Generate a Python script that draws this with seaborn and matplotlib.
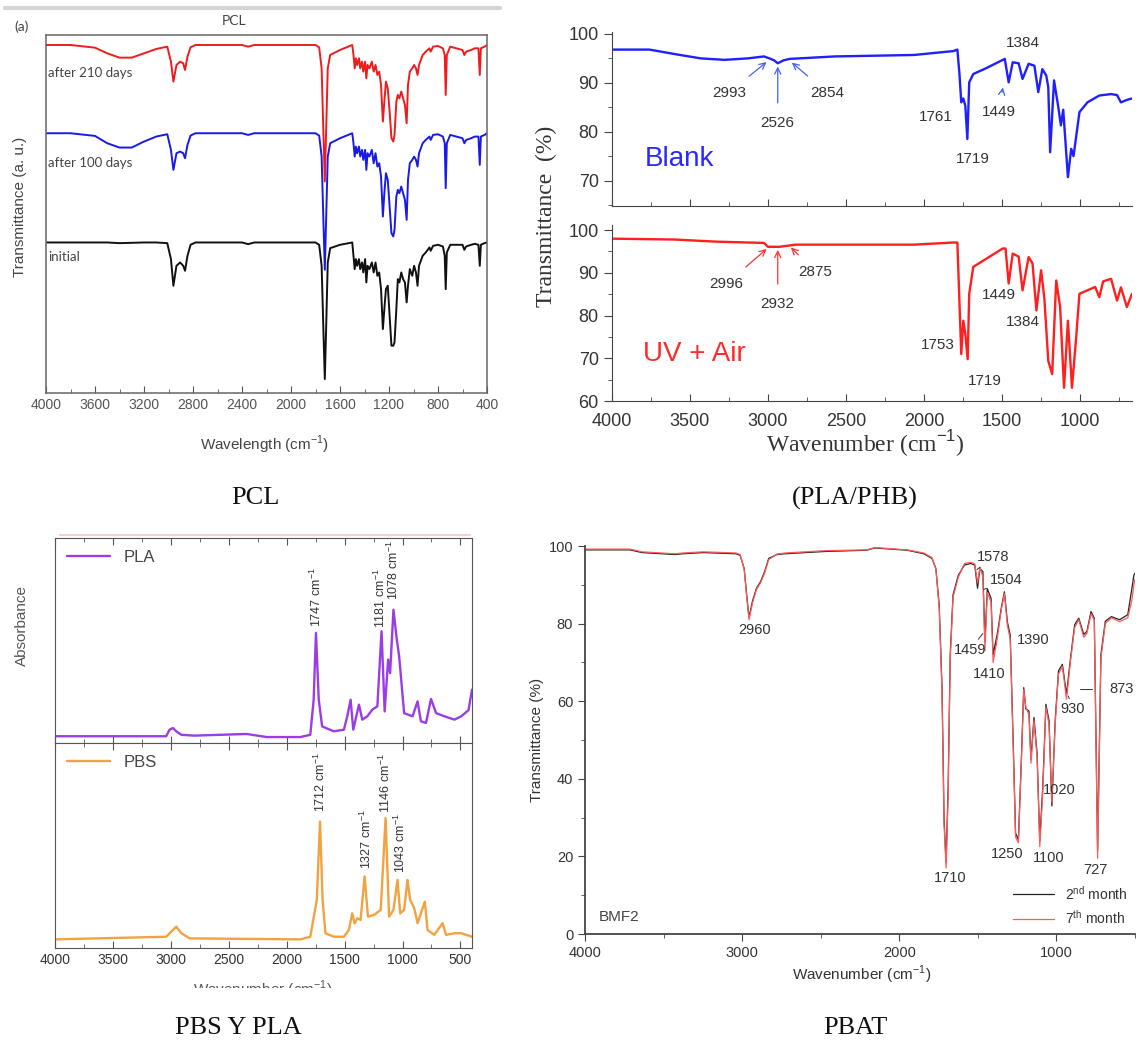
import matplotlib
matplotlib.use("Agg")
import numpy as np
import pandas as pd
import matplotlib.pyplot as plt
import seaborn as sns
from matplotlib.ticker import MultipleLocator
from matplotlib.lines import Line2D
from matplotlib.patches import Rectangle

# ===== DATA =====
# PCL: shared wavenumbers, band depth below each baseline (a.u.)
pcl_wn = [4000, 3800, 3600, 3500, 3400, 3300, 3200, 3100, 3010, 2980,
          2960, 2935, 2905, 2880, 2865, 2845, 2820, 2780, 2400, 2350,
          2300, 1800, 1770, 1750, 1735, 1724, 1714, 1700, 1680, 1600,
          1500, 1490, 1480, 1470, 1460, 1445, 1435, 1420, 1410, 1395,
          1385, 1375, 1360, 1340, 1325, 1310, 1295, 1280, 1265, 1250,
          1238, 1225, 1210, 1195, 1180, 1165, 1155, 1140, 1128, 1115,
          1100, 1085, 1070, 1056, 1045, 1030, 1010, 995, 980, 967,
          955, 945, 925, 900, 870, 860, 840, 800, 760, 745,
          737, 728, 700, 600, 585, 570, 530, 500, 470, 459,
          450, 420, 400]
pcl_initial = [0, 0, 0, 0, 0.2, 0.1, 0, 0, 0.2, 5,
               13, 7, 6, 7, 8.5, 4, 0.7, 0, 0, 0.5,
               0, 0, 0.7, 7, 27, 41, 27, 6, 1.7, 0.7,
               0, 4, 8, 5, 7, 5, 8, 6, 9, 5,
               12, 7, 8, 6, 9, 6, 10, 9, 14, 26,
               20, 14, 13, 22, 31, 31, 30, 20, 11, 12,
               9, 11, 12, 18, 13, 8, 10, 7, 9, 13,
               7, 6, 4, 3, 1.5, 2.5, 1, 0.7, 1.2, 4,
               14, 3, 0.7, 0.7, 2.2, 1.2, 0.7, 0.4, 0.7, 7,
               0.7, 0.2, 0]
pcl_100d = [0, 0, 0.8, 3, 4.3, 4.3, 2.5, 1, 0.3, 5,
            11, 6, 5.5, 6, 7.5, 3.5, 0.7, 0, 0, 0.5,
            0, 0, 0.7, 7, 27, 41, 27, 7, 3, 1.5,
            0, 3, 7, 4, 6, 4, 7, 5, 8, 5,
            11, 6, 7, 5, 9, 6, 10, 9, 13, 25,
            18, 12, 14, 22, 30, 31, 29, 19, 17, 18,
            16, 18, 20, 26, 14, 9, 8, 7, 8, 10,
            6, 5, 3, 2, 1, 2, 0.5, 0.3, 1, 3,
            16.5, 3, 0.5, 1.5, 3, 2, 1.5, 1, 1, 9.5,
            1, 0.5, 0]
pcl_210d = [0, 0, 0.8, 2.5, 3.8, 3.8, 2.5, 1.2, 0.5, 5,
            11, 6, 5, 5.5, 7.5, 3.5, 0.7, 0, 0, 0.5,
            0, 0, 0.7, 7, 27, 41, 27, 7, 3, 1.5,
            0, 3, 7, 4, 6, 4, 7, 5, 8, 5,
            10, 6, 7, 5, 8, 6, 9, 8, 12, 23,
            17, 11, 13, 20, 28, 29, 27, 17, 15, 16,
            14, 16, 18, 23.5, 12, 8, 7, 6, 7, 9,
            6, 5, 3, 2, 1, 2, 0.5, 0.3, 1, 3,
            15, 3, 0.5, 1.5, 3, 2, 1.5, 1, 1, 9,
            1, 0.5, 0]
pcl_offsets = [45.2, 78.0, 104.5]
pcl_names = ["initial", "after 100 days", "after 210 days"]

# PLA/PHB transmittance (%)
blank_wn = [4000, 3760, 3582, 3430, 3278, 3130, 3025, 2990, 2960, 2937,
            2900, 2860, 2570, 2063, 1810, 1785, 1772, 1760, 1747, 1734,
            1721, 1709, 1683, 1600, 1481, 1456, 1430, 1392, 1367, 1328,
            1291, 1266, 1240, 1215, 1202, 1190, 1165, 1139, 1121, 1106,
            1076, 1055, 1040, 1002, 951, 875, 799, 761, 736, 698,
            665]
blank_t = [96.8, 96.8, 95.8, 95.0, 94.7, 95.0, 95.4, 95.0, 94.6, 94.0,
           94.6, 94.9, 95.4, 95.7, 96.5, 96.8, 92.0, 86.0, 86.8, 85.3,
           78.5, 90.1, 91.8, 93.0, 94.9, 90.1, 94.2, 94.0, 90.8, 93.9,
           93.5, 88.1, 92.8, 91.5, 89.1, 75.8, 90.5, 85.3, 81.3, 84.5,
           70.7, 76.5, 75.0, 84.0, 86.0, 87.4, 87.7, 87.5, 86.0, 86.5,
           86.8]
uv_wn = [4000, 3600, 3329, 3025, 3000, 2924, 2823, 2063, 1810, 1785,
         1772, 1760, 1747, 1734, 1719, 1709, 1683, 1494, 1476, 1456,
         1430, 1392, 1367, 1328, 1303, 1278, 1248, 1227, 1202, 1177,
         1151, 1126, 1101, 1076, 1050, 1025, 1002, 951, 901, 875,
         850, 799, 761, 736, 698, 665]
uv_t = [98.0, 97.8, 97.3, 97.0, 96.1, 96.1, 96.6, 96.6, 97.1, 97.1,
        83.5, 71.0, 78.8, 75.7, 69.8, 85.1, 91.4, 95.7, 95.7, 87.5,
        94.5, 93.8, 85.9, 93.7, 92.2, 81.2, 90.6, 84.0, 69.4, 66.3,
        88.2, 82.0, 63.1, 78.8, 63.1, 74.0, 85.1, 85.9, 86.7, 84.3,
        88.0, 88.6, 83.5, 86.6, 82.0, 85.1]

# PLA / PBS absorbance (a.u.)
pla_wn = [4000, 3040, 3011, 2982, 2953, 2909, 2800, 2345, 2172, 1882,
          1796, 1767, 1747, 1723, 1694, 1593, 1506, 1477, 1448, 1425,
          1376, 1347, 1304, 1260, 1217, 1181, 1154, 1124, 1107, 1078,
          1049, 1029, 986, 913, 870, 841, 797, 754, 710, 638,
          551, 494, 430, 400]
pla_abs = [0.033, 0.033, 0.065, 0.073, 0.057, 0.04, 0.036, 0.044, 0.029, 0.029,
           0.04, 0.211, 0.537, 0.211, 0.081, 0.057, 0.065, 0.13, 0.211, 0.065,
           0.187, 0.114, 0.13, 0.163, 0.179, 0.545, 0.154, 0.407, 0.341, 0.65,
           0.504, 0.423, 0.146, 0.13, 0.203, 0.106, 0.098, 0.215, 0.146, 0.13,
           0.114, 0.13, 0.16, 0.26]
pbs_wn = [4000, 3040, 2982, 2953, 2909, 2837, 1882, 1796, 1740, 1712,
          1690, 1665, 1593, 1506, 1463, 1434, 1413, 1390, 1362, 1327,
          1298, 1246, 1188, 1146, 1116, 1078, 1043, 1020, 986, 957,
          934, 899, 870, 807, 784, 726, 654, 624, 551, 494,
          400]
pbs_abs = [0.042, 0.055, 0.088, 0.104, 0.072, 0.047, 0.042, 0.055, 0.235, 0.617,
           0.235, 0.072, 0.055, 0.055, 0.088, 0.169, 0.12, 0.145, 0.137, 0.349,
           0.153, 0.161, 0.186, 0.634, 0.153, 0.186, 0.332, 0.169, 0.186, 0.332,
           0.235, 0.195, 0.121, 0.226, 0.088, 0.064, 0.121, 0.064, 0.072, 0.072,
           0.055]

# PBAT transmittance (%)
pbat_wn = [4000, 3714, 3636, 3429, 3377, 3247, 3039, 3013, 2987, 2969,
           2956, 2935, 2909, 2883, 2857, 2831, 2779, 2727, 2468, 2208,
           2156, 1948, 1844, 1792, 1767, 1746, 1728, 1715, 1702, 1689,
           1676, 1658, 1624, 1585, 1546, 1520, 1502, 1487, 1468, 1455,
           1440, 1416, 1403, 1377, 1351, 1331, 1312, 1294, 1273, 1260,
           1242, 1222, 1208, 1195, 1175, 1162, 1143, 1123, 1106, 1087,
           1067, 1047, 1029, 1008, 987, 962, 936, 910, 884, 858,
           826, 806, 780, 759, 738, 717, 689, 650, 598, 546,
           520, 507, 500]
pbat_2nd = [99.0, 99.0, 98.3, 97.8, 98.0, 98.3, 98.0, 97.6, 94.2, 86.5,
            81.6, 85.7, 89.1, 90.8, 93.4, 96.8, 97.8, 98.0, 98.6, 98.9,
            99.5, 98.9, 98.0, 96.8, 94.2, 84.8, 63.5, 29.4, 18.5, 38.0,
            72.0, 87.4, 92.5, 95.1, 95.5, 95.1, 89.1, 94.2, 93.4, 75.4,
            89.0, 86.5, 72.0, 77.2, 84.0, 88.2, 80.4, 77.0, 46.5, 26.0,
            24.3, 46.5, 63.5, 58.0, 57.5, 45.0, 55.8, 46.5, 24.0, 38.0,
            59.2, 55.0, 33.0, 55.0, 67.8, 69.5, 61.8, 71.2, 79.7, 81.4,
            77.2, 78.0, 83.1, 81.4, 21.5, 72.0, 80.6, 81.8, 81.0, 82.3,
            89.0, 92.5, 93.0]
pbat_7th = [99.2, 99.2, 98.5, 98.0, 98.2, 98.5, 98.2, 97.8, 94.0, 86.0,
            81.0, 85.2, 88.8, 90.5, 93.0, 96.5, 97.9, 98.2, 98.8, 99.0,
            99.6, 99.0, 98.2, 97.0, 94.0, 84.0, 62.0, 28.0, 17.0, 36.0,
            70.5, 86.8, 92.0, 95.5, 95.8, 95.4, 90.5, 94.5, 92.0, 73.0,
            88.0, 85.5, 70.0, 76.0, 83.5, 87.8, 79.5, 76.0, 45.0, 25.0,
            23.5, 45.5, 63.0, 58.5, 56.5, 44.0, 55.0, 45.5, 22.5, 36.5,
            58.5, 54.0, 34.0, 54.0, 67.0, 69.0, 60.5, 70.5, 79.0, 81.0,
            76.5, 77.5, 82.5, 81.0, 19.5, 71.0, 80.0, 81.5, 80.5, 81.5,
            86.0, 90.0, 91.5]

captions = ["PCL", "(PLA/PHB)", "PBS Y PLA", "PBAT"]

# ===== STYLE =====
sns.set_style("ticks")
plt.rcParams["font.family"] = ["Liberation Sans", "DejaVu Sans"]
plt.rcParams["mathtext.fontset"] = "custom"
plt.rcParams["mathtext.rm"] = "Liberation Sans"

W, H = 1138, 1043
fig = plt.figure(figsize=(W / 100, H / 100), dpi=100)


def px_axes(left, top, right, bottom):
    return fig.add_axes([left / W, 1 - bottom / H, (right - left) / W, (bottom - top) / H])


def ftext(x, y, s, **kw):
    return fig.text(x / W, 1 - y / H, s, **kw)


def spectrum(ax, wn, vals, color, lw, label=None):
    df = pd.DataFrame({"wn": wn, "val": vals})
    sns.lineplot(data=df, x="wn", y="val", ax=ax, color=color, lw=lw,
                 estimator=None, sort=False, label=label, legend=False)
    ax.set_xlabel("")
    ax.set_ylabel("")


# ===== PANEL A: PCL =====
fig.add_artist(Line2D([5 / W, 500 / W], [1 - 8 / H, 1 - 8 / H], color="#d4d4d4", lw=3))
axA = px_axes(46, 35, 487, 393)
for depth, off, col in zip([pcl_initial, pcl_100d, pcl_210d], pcl_offsets,
                           ["#111111", "#1a1ae6", "#ee1c1c"]):
    spectrum(axA, pcl_wn, off - np.array(depth), col, 1.4)
axA.set_xlim(4000, 400)
axA.set_ylim(0, 107.5)
axA.set_yticks([])
axA.xaxis.set_major_locator(MultipleLocator(400))
axA.xaxis.set_minor_locator(MultipleLocator(200))
axA.tick_params(axis="x", which="both", direction="in", labelsize=10, labelcolor="#555", color="#555")
axA.tick_params(axis="x", which="major", length=5)
axA.tick_params(axis="x", which="minor", length=3)
for s in axA.spines.values():
    s.set_color("#666")
    s.set_linewidth(1.1)
for name, yv in zip(pcl_names, [40.8, 69.1, 96.1]):
    axA.text(3985, yv, name, fontsize=9.5, color="#444", va="center", family="Lato")
ftext(234, 21, "PCL", fontsize=10, color="#444", ha="center", va="center", family="Lato")
ftext(14, 27, "(a)", fontsize=10, color="#444", va="center", family="Lato")
ftext(265, 445, "Wavelength (cm$^{-1}$)", fontsize=11, color="#444", ha="center", va="center")
ftext(20, 207, "Transmittance (a. u.)", fontsize=11, color="#444", ha="center", va="center",
      rotation=90)

# ===== PANEL B: PLA/PHB =====
axB1 = px_axes(612, 32, 1132, 206)
axB2 = px_axes(612, 225, 1132, 401)
spectrum(axB1, blank_wn, blank_t, "#1f1fff", 1.7)
spectrum(axB2, uv_wn, uv_t, "#ff1f1f", 1.7)
axB1.set_ylim(64.8, 100.4)
axB2.set_ylim(60, 101.2)
for ax in (axB1, axB2):
    ax.set_xlim(4000, 665)
    sns.despine(ax=ax)
    ax.xaxis.set_major_locator(MultipleLocator(500))
    ax.xaxis.set_minor_locator(MultipleLocator(250))
    ax.yaxis.set_major_locator(MultipleLocator(10))
    ax.yaxis.set_minor_locator(MultipleLocator(5))
    ax.tick_params(axis="both", which="both", color="#444", labelcolor="#333", labelsize=13)
    ax.tick_params(axis="y", which="major", length=6, direction="out")
    ax.tick_params(axis="y", which="minor", length=3, direction="out")
    ax.tick_params(axis="x", which="major", length=5, direction="in", pad=9)
    ax.tick_params(axis="x", which="minor", length=3, direction="in")
    for s in ax.spines.values():
        s.set_color("#444")
axB1.set_yticks([70, 80, 90, 100])
axB1.tick_params(axis="x", labelbottom=False)
axB2.set_yticks([60, 70, 80, 90, 100])

ann = dict(fontsize=11, color="#333", ha="center", va="center")
axB1.annotate("2993", xy=(2995, 94.6), xytext=(3250, 88.0),
              arrowprops=dict(arrowstyle="->", color="#4060ff", lw=0.9, shrinkA=7), **ann)
axB1.annotate("2526", xy=(2937, 93.9), xytext=(2937, 81.8),
              arrowprops=dict(arrowstyle="->", color="#4060ff", lw=0.9, shrinkA=7), **ann)
axB1.annotate("2854", xy=(2860, 94.5), xytext=(2620, 88.0),
              arrowprops=dict(arrowstyle="->", color="#4060ff", lw=0.9, shrinkA=7), **ann)
axB1.annotate("1449", xy=(1490, 89.6), xytext=(1520, 84.0),
              arrowprops=dict(arrowstyle="->", color="#4060ff", lw=0.9, shrinkA=7), **ann)
axB1.text(1925, 83.0, "1761", **ann)
axB1.text(1683, 74.4, "1719", **ann)
axB1.text(1367, 98.2, "1384", **ann)
axB1.text(3790, 74.4, "Blank", fontsize=20, color="#2a2aff", va="center")

axB2.annotate("2996", xy=(2995, 96.0), xytext=(3265, 87.5),
              arrowprops=dict(arrowstyle="->", color="#ff3030", lw=0.9, shrinkA=7), **ann)
axB2.annotate("2932", xy=(2937, 96.0), xytext=(2937, 82.7),
              arrowprops=dict(arrowstyle="->", color="#ff3030", lw=0.9, shrinkA=7), **ann)
axB2.annotate("2875", xy=(2865, 96.4), xytext=(2695, 90.2),
              arrowprops=dict(arrowstyle="->", color="#ff3030", lw=0.9, shrinkA=7), **ann)
axB2.text(1910, 73.0, "1753", **ann)
axB2.text(1608, 64.7, "1719", **ann)
axB2.text(1519, 84.7, "1449", **ann)
axB2.text(1367, 78.4, "1384", **ann)
axB2.text(3800, 71.0, "UV + Air", fontsize=20, color="#ff2a2a", va="center")

ftext(865, 444, "Wavenumber (cm$^{-1}$)", fontsize=17, color="#333", ha="center", va="center",
      family="Liberation Serif")
ftext(546, 216, "Transmittance  (%)", fontsize=17, color="#333", ha="center", va="center",
      rotation=90, family="Liberation Serif")

# ===== PANEL C: PBS / PLA =====
fig.add_artist(Line2D([60 / W, 470 / W], [1 - 535 / H, 1 - 535 / H], color="#f6d0d0", lw=1.5))
axC1 = px_axes(55, 538, 472, 743)
axC2 = px_axes(55, 743, 472, 948)
spectrum(axC1, pla_wn, pla_abs, "#9b3de6", 1.7, label="PLA")
spectrum(axC2, pbs_wn, pbs_abs, "#f2a23e", 1.7, label="PBS")
for ax in (axC1, axC2):
    ax.set_xlim(4000, 400)
    ax.set_ylim(0, 1)
    ax.set_yticks([])
    ax.xaxis.set_major_locator(MultipleLocator(500))
    ax.xaxis.set_minor_locator(MultipleLocator(250))
    ax.tick_params(axis="x", which="both", direction="in", top=True, color="#555",
                   labelcolor="#333", labelsize=10)
    ax.tick_params(axis="x", which="major", length=5)
    ax.tick_params(axis="x", which="minor", length=3)
    for s in ax.spines.values():
        s.set_color("#555")
    ax.legend(loc="upper left", frameon=False, fontsize=12, handlelength=2.6,
              borderaxespad=0.3, labelcolor="#444")
axC1.tick_params(axis="x", labelbottom=False)

rot = dict(fontsize=9, color="#333", rotation=90, ha="center", va="bottom")
axC1.text(1747, 0.565, "1747 cm$^{-1}$", **rot)
axC1.text(1195, 0.56, "1181 cm$^{-1}$", **rot)
axC1.text(1078, 0.70, "1078 cm$^{-1}$", **rot)
axC2.text(1712, 0.665, "1712 cm$^{-1}$", **rot)
axC2.text(1312, 0.385, "1327 cm$^{-1}$", **rot)
axC2.text(1146, 0.66, "1146 cm$^{-1}$", **rot)
axC2.text(1015, 0.365, "1043 cm$^{-1}$", **rot)
ftext(22, 625, "Absorbance", fontsize=11, color="#555", ha="center", va="center", rotation=90)
ftext(263, 990, "Wavenumber (cm$^{-1}$)", fontsize=11, color="#555", ha="center", va="center")
fig.add_artist(Rectangle((0, 1 - 1010 / H), 480 / W, 22 / H, transform=fig.transFigure,
                         facecolor="white", edgecolor="none", zorder=5))

# ===== PANEL D: PBAT =====
axD = px_axes(585, 546, 1135, 934)
spectrum(axD, pbat_wn, pbat_2nd, "#222222", 0.9, label="2$^{\\mathrm{nd}}$ month")
spectrum(axD, pbat_wn, pbat_7th, "#ff5a5a", 0.9, label="7$^{\\mathrm{th}}$ month")
axD.set_xlim(4000, 500)
axD.set_ylim(0, 100)
sns.despine(ax=axD)
axD.xaxis.set_major_locator(MultipleLocator(1000))
axD.xaxis.set_minor_locator(MultipleLocator(500))
axD.yaxis.set_major_locator(MultipleLocator(20))
axD.yaxis.set_minor_locator(MultipleLocator(10))
axD.tick_params(axis="both", which="both", color="#444", labelcolor="#333", labelsize=10.5)
axD.tick_params(which="major", length=5)
axD.tick_params(which="minor", length=3)
for s in axD.spines.values():
    s.set_color("#444")
    s.set_linewidth(1.3)
axD.legend(loc="lower right", frameon=False, fontsize=10, handlelength=3, borderaxespad=0.1,
           labelcolor="#333")

pk = dict(fontsize=10.5, color="#333", ha="center", va="center")
axD.text(2922, 78.4, "2960", **pk)
axD.text(1676, 14.5, "1710", **pk)
axD.text(1312, 20.5, "1250", **pk)
axD.text(1050, 19.6, "1100", **pk)
axD.text(754, 16.6, "727", **pk)
axD.text(985, 37.0, "1020", **pk)
axD.text(1430, 66.9, "1410", **pk)
axD.annotate("1578", xy=(1520, 93.5), xytext=(1400, 97.2),
             arrowprops=dict(arrowstyle="-", color="#333", lw=0.7, shrinkA=9), **pk)
axD.annotate("1504", xy=(1480, 88.5), xytext=(1320, 91.2),
             arrowprops=dict(arrowstyle="-", color="#333", lw=0.7, shrinkA=12), **pk)
axD.annotate("1459", xy=(1458, 78.0), xytext=(1548, 73.3),
             arrowprops=dict(arrowstyle="-", color="#333", lw=0.7, shrinkA=8), **pk)
axD.annotate("1390", xy=(1390, 74.5), xytext=(1145, 75.9),
             arrowprops=dict(arrowstyle="-", color="#333", lw=0.7, shrinkA=13), **pk)
axD.annotate("930", xy=(930, 62.0), xytext=(895, 58.0),
             arrowprops=dict(arrowstyle="-", color="#333", lw=0.7, shrinkA=6), **pk)
axD.annotate("873", xy=(866, 62.8), xytext=(585, 63.1),
             arrowprops=dict(arrowstyle="-", color="#333", lw=0.7, shrinkA=10,
                             connectionstyle="angle,angleA=0,angleB=90"), **pk)
axD.text(3910, 4.3, "BMF2", fontsize=11, color="#444", va="center")
ftext(862, 975, "Wavenumber (cm$^{-1}$)", fontsize=11, color="#333", ha="center", va="center")
ftext(537, 740, "Transmittance (%)", fontsize=11, color="#333", ha="center", va="center",
      rotation=90)

# ===== CAPTIONS =====
for (x, y), cap in zip([(255, 498), (855, 498), (238, 1028), (855, 1028)], captions):
    ftext(x, y, cap, fontsize=19, color="#111", ha="center", va="center",
          family="Liberation Serif", zorder=6)

fig.savefig("out.png", dpi=100, facecolor="white")
